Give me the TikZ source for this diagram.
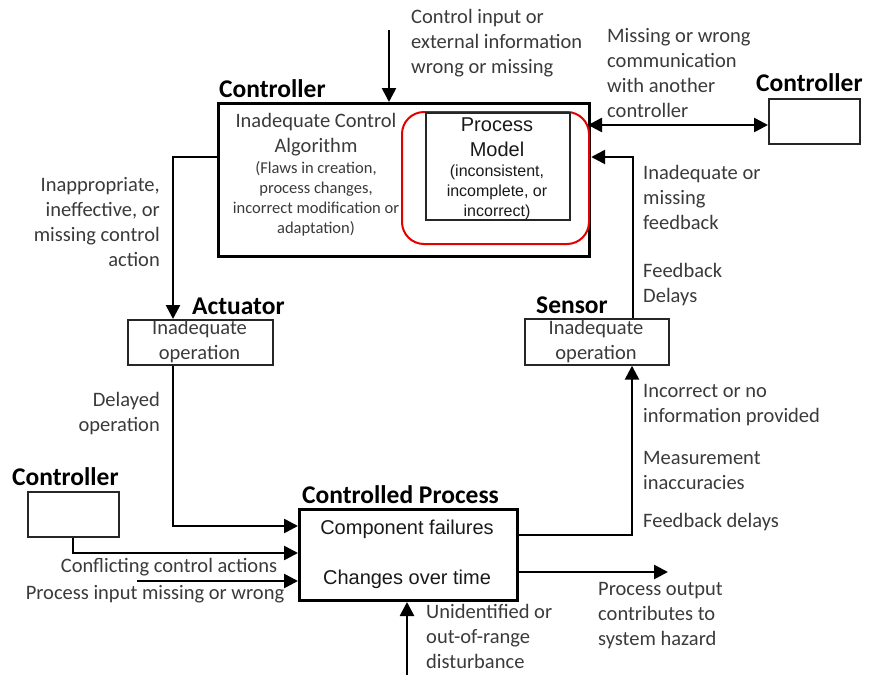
\documentclass[tikz,border=0pt]{standalone}
\usepackage{fontspec}
\setmainfont{Carlito}
\newfontfamily\arialf{Liberation Sans}
\usetikzlibrary{arrows.meta}
\definecolor{txtgrey}{HTML}{3A3A3A}
\begin{document}
\begin{tikzpicture}[x=1pt,y=-1pt,
  txt/.style={inner sep=0pt, text=txtgrey, font=\fontsize{20.5}{25}\selectfont, align=left},
  small/.style={inner sep=0pt, text=txtgrey, font=\fontsize{16.5}{20}\selectfont, align=center},
  head/.style={inner sep=0pt, text=black, font=\fontsize{25.5}{30}\selectfont\bfseries, anchor=west},
  ar/.style={inner sep=0pt, text=black!90, font=\arialf\fontsize{20}{24.5}\selectfont, align=center},
  arsmall/.style={inner sep=0pt, text=black!90, font=\arialf\fontsize{16}{20}\selectfont, align=center},
  bigbox/.style={draw, line width=3.2pt, inner sep=0pt, anchor=north west},
  smallbox/.style={draw=black!85, line width=1.7pt, inner sep=0pt, anchor=north west},
  arr/.style={line width=2.6pt, -{Triangle[length=14pt,width=14pt]}},
  darr/.style={line width=2.6pt, {Triangle[length=14pt,width=14pt]}-{Triangle[length=14pt,width=14pt]}}
]
\useasboundingbox (0,0) rectangle (871,675);

% boxes
\node[bigbox, minimum width=371pt, minimum height=153pt] (ctrl) at (217,102) {};
\node[draw=red!90!black, line width=2pt, rounded corners=22pt, inner sep=0pt, anchor=north west, minimum width=187pt, minimum height=132pt] (focus) at (401,111) {};
\node[smallbox, minimum width=144pt, minimum height=107pt] (pm) at (425,112) {};
\node[smallbox, minimum width=91pt, minimum height=45pt] (rctrl) at (768,98) {};
\node[smallbox, minimum width=91pt, minimum height=45pt] (lctrl) at (27,491) {};
\node[smallbox, minimum width=145pt, minimum height=45pt] (act) at (127,319) {};
\node[smallbox, minimum width=144pt, minimum height=46pt] (sensor) at (524,318) {};
\node[bigbox, line width=3pt, minimum width=218pt, minimum height=91pt] (proc) at (298,508) {};

% headings
\node[head] (hctrl) at (219,89) {Controller};
\node[head] (hrctrl) at (756,83) {Controller};
\node[head] (hlctrl) at (12,477) {Controller};
\node[head] (hact) at (192,306) {Actuator};
\node[head] (hsens) at (536,305) {Sensor};
\node[head] (hproc) at (302,495) {Controlled Process};

% box contents
\node[txt, align=center] (alg) at (316,135) {Inadequate Control\\Algorithm};
\node[small] (flaws) at (316,199) {(Flaws in creation,\\process changes,\\incorrect modification or\\adaptation)};
\node[ar] (pmt) at (497,137) {Process\\Model};
\node[arsmall] (pmd) at (497,192) {(inconsistent,\\incomplete, or\\incorrect)};
\node[txt, align=center] (actt) at (199.5,342) {Inadequate\\operation};
\node[txt, align=center] (senst) at (596,342) {Inadequate\\operation};
\node[ar] (cf) at (407,529) {Component failures};
\node[ar] (cot) at (407,579) {Changes over time};

% connectors
\coordinate (topin) at (389,30);
\draw[arr] (topin) -- (topin |- ctrl.north);

\coordinate (cm) at (588,125);
\draw[darr] (cm) -- (cm -| rctrl.west);

\coordinate (fb) at (633,157);
\draw[arr] (fb |- sensor.north) -- (fb) -- (fb -| ctrl.east);

\coordinate (ca) at (173,157);
\draw[arr] (ca -| ctrl.west) -- (ca) -- (ca |- act.north);

\coordinate (ao) at (173,526);
\draw[arr] (ao |- act.south) -- (ao) -- (ao -| proc.west);

\coordinate (lc) at (73,553);
\draw[arr] (lc |- lctrl.south) -- (lc) -- (lc -| proc.west);

\coordinate (pin) at (137,581);
\draw[arr] (pin) -- (pin -| proc.west);

\coordinate (ps) at (632,535);
\draw[arr] (ps -| proc.east) -- (ps) -- (ps |- sensor.south);

\coordinate (po) at (668,572);
\draw[arr] (po -| proc.east) -- (po);

\coordinate (dist) at (407,675);
\draw[arr] (dist) -- (dist |- proc.south);

% labels
\node[txt, anchor=west] (l1) at (411,43) {Control input or\\external information\\wrong or missing};
\node[txt, anchor=west] (l2) at (607,73) {Missing or wrong\\communication\\with another\\controller};
\node[txt, anchor=west] (l3) at (643,197) {Inadequate or\\missing\\feedback};
\node[txt, anchor=west] (l4) at (643,285) {Feedback\\Delays};
\node[txt, anchor=east, align=right] (l5) at (160,222) {Inappropriate,\\ineffective, or\\missing control\\action};
\node[txt, anchor=east, align=right] (l6) at (160,414) {Delayed\\operation};
\node[txt, anchor=west] (l7) at (643,405) {Incorrect or no\\information provided};
\node[txt, anchor=west] (l8) at (643,470) {Measurement\\inaccuracies};
\node[txt, anchor=west] (l9) at (643,522) {Feedback delays};
\node[txt, anchor=west] (l10) at (598,616) {Process output\\contributes to\\system hazard};
\node[txt, anchor=west] (l11) at (426,636) {Unidentified or\\out-of-range\\disturbance};
\node[txt] (l12) at (169,567) {Conflicting control actions};
\node[txt] (l13) at (155,594) {Process input missing or wrong};
\end{tikzpicture}
\end{document}
